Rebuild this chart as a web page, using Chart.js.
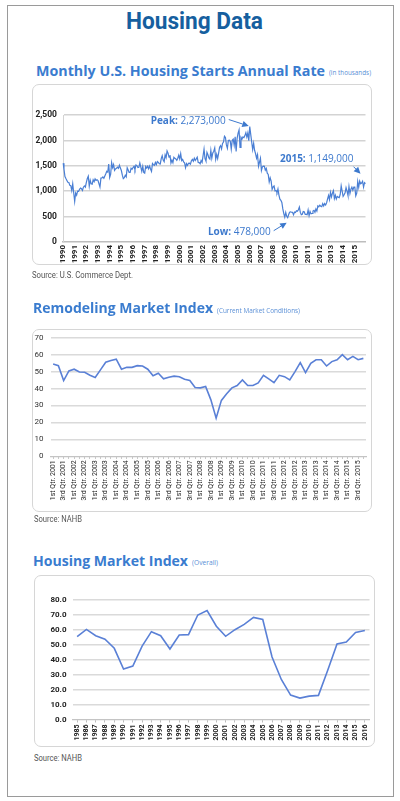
<!DOCTYPE html>
<html><head><meta charset="utf-8">
<script src="https://cdn.jsdelivr.net/npm/chart.js@4.4.1/dist/chart.umd.min.js"></script>
<style>
html,body{margin:0;padding:0;background:#fff;width:400px;height:801px;overflow:hidden;}
#page{position:relative;width:400px;height:801px;}
.frame{position:absolute;left:7px;top:5px;width:387px;height:792px;border:1.5px solid #9a9a9a;box-sizing:border-box;}
.t{position:absolute;white-space:nowrap;transform-origin:0 50%;}
.box{position:absolute;border:1.5px solid #d6d6d6;border-radius:7px;box-sizing:border-box;}
.cw{position:absolute;}
.h1{font-family:'Liberation Sans Narrow','Roboto',sans-serif;font-weight:700;font-size:24px;color:#165f9f;}
.h2{font-family:'Open Sans',sans-serif;font-weight:700;font-size:15px;color:#3a7ccf;}
.sub{font-family:'Open Sans',sans-serif;font-size:7px;color:#5a8fd6;}
.src{font-family:'Roboto',sans-serif;font-size:9px;color:#555;}
</style></head>
<body><div id="page">
<div class="frame"></div>
<div class="t h1" data-x="126" data-cy="21" data-w="137">Housing Data</div>

<div class="t h2" data-x="36" data-cy="70.5" data-w="289">Monthly U.S. Housing Starts Annual Rate</div>
<div class="t sub" data-x="329" data-cy="72" data-w="42">(in thousands)</div>
<div class="box" style="left:32px;top:84px;width:340px;height:181px"></div>
<div class="cw" style="left:32px;top:84px;width:340px;height:195px"><canvas id="c1"></canvas></div>
<div class="t src" data-x="32" data-cy="275" data-w="101">Source: U.S. Commerce Dept.</div>

<div class="t h2" data-x="33" data-cy="307.7" data-w="180">Remodeling Market Index</div>
<div class="t sub" data-x="217" data-cy="310" data-w="83">(Current Market Conditions)</div>
<div class="box" style="left:32px;top:329px;width:340px;height:183px"></div>
<div class="cw" style="left:32px;top:329px;width:340px;height:183px"><canvas id="c2"></canvas></div>
<div class="t src" data-x="34" data-cy="519" data-w="48">Source: NAHB</div>

<div class="t h2" data-x="33" data-cy="560" data-w="155">Housing Market Index</div>
<div class="t sub" data-x="192" data-cy="562.5" data-w="26">(Overall)</div>
<div class="box" style="left:34px;top:575px;width:341px;height:172px"></div>
<div class="cw" style="left:34px;top:575px;width:341px;height:172px"><canvas id="c3"></canvas></div>
<div class="t src" data-x="34" data-cy="758" data-w="48">Source: NAHB</div>
</div>
<script>
// ---------- Chart 1: Monthly U.S. Housing Starts (thousands) ----------
const startsYears = [1990,1991,1992,1993,1994,1995,1996,1997,1998,1999,2000,2001,2002,2003,2004,2005,2006,2007,2008,2009,2010,2011,2012,2013,2014,2015];
const startsValues = [
 1551,1437,1289,1248,1212,1177,1171,1115,1110,1014,1145,969,
 798,965,921,1001,996,1036,1063,1049,1015,1079,1103,1079,
 1176,1250,1297,1099,1214,1145,1139,1226,1186,1244,1214,1227,
 1210,1210,1083,1258,1260,1280,1254,1300,1343,1392,1376,1533,
 1272,1337,1564,1465,1526,1409,1439,1450,1474,1450,1511,1455,
 1407,1316,1249,1267,1314,1281,1461,1416,1369,1369,1452,1431,
 1467,1491,1424,1516,1504,1467,1472,1557,1475,1392,1489,1370,
 1355,1486,1457,1492,1442,1494,1437,1390,1546,1520,1510,1566,
 1525,1584,1567,1540,1536,1641,1698,1614,1582,1715,1660,1792,
 1748,1670,1710,1553,1611,1559,1669,1648,1635,1608,1648,1708,
 1636,1737,1604,1626,1575,1559,1463,1541,1507,1549,1551,1532,
 1600,1625,1590,1649,1605,1636,1670,1567,1562,1540,1602,1568,
 1698,1829,1642,1592,1764,1717,1655,1633,1804,1648,1753,1788,
 1853,1629,1726,1643,1751,1867,1897,1833,1939,1967,2083,2057,
 1911,1846,1998,2003,1981,1828,2002,2024,1905,2072,1782,2042,
 2144,2207,1864,2061,2025,2068,2054,2095,2151,2065,2147,1994,
 2273,2119,1969,1821,1942,1802,1737,1650,1720,1491,1570,1649,
 1409,1480,1495,1490,1415,1448,1354,1330,1183,1264,1197,1037,
 1084,1103,1005,1013,973,1046,923,844,820,777,652,560,
 490,582,505,478,540,585,594,586,585,534,588,581,
 614,604,636,687,583,536,546,599,594,543,545,539,
 630,517,600,554,561,608,623,585,650,610,711,694,
 723,704,695,753,708,757,728,770,847,915,833,976,
 888,962,1010,856,919,847,898,883,873,936,1105,1003,
 897,929,968,1070,1001,914,1090,956,1038,1081,1020,1082,
 1080,909,963,1189,1077,1200,1147,1160,1196,1082,1168,1149
];
const startsTicks = [0,500,1000,1500,2000,2500];
const startsNotes = ['Peak:','Low:','2015:'];

// ---------- Chart 2: Remodeling Market Index (quarterly) ----------
const remodelYears = [2001,2002,2003,2004,2005,2006,2007,2008,2009,2010,2011,2012,2013,2014,2015];
const quarterNames = ['1st Qtr.','2nd Qtr.','3rd Qtr.','4th Qtr.'];
const remodelValues = [
 54.5,53.5,44.7,50.4, 51.4,49.8,49.6,47.8, 46.5,51.0,55.5,56.5, 57.3,51.4,52.5,52.5,
 53.5,53.3,51.4,47.5, 49.0,45.7,46.7,47.3, 47.0,45.5,44.7,40.6, 40.4,41.2,33.3,22.5,
 33.0,36.9,40.4,41.8, 45.1,41.8,41.8,43.3, 47.8,45.7,43.5,47.8, 47.0,45.1,50.0,55.3,
 49.4,54.9,57.0,57.0, 53.3,55.9,57.0,60.0, 57.0,59.0,57.0,57.8
];

// ---------- Chart 3: Housing Market Index (annual) ----------
const hmiYears = ['1985','1986','1987','1988','1989','1990','1991','1992','1993','1994','1995','1996','1997','1998','1999','2000',
 '2001','2002','2003','2004','2005','2006','2007','2008','2009','2010','2011','2012','2013','2014','2015','2016'];
const hmiValues = [55.6,60.4,56.2,53.8,47.8,34.0,36.0,49.3,58.9,56.2,47.3,56.7,56.9,70.0,72.9,62.5,
 55.8,60.2,63.7,68.4,67.0,42.0,27.0,16.6,14.6,15.9,16.4,33.2,50.7,52.0,58.4,59.7];

// ---------- text placement ----------
document.querySelectorAll('.t').forEach(el=>{
  const fs = parseFloat(getComputedStyle(el).fontSize);
  el.style.lineHeight = fs + 'px';
  el.style.left = el.dataset.x + 'px';
  el.style.top = (parseFloat(el.dataset.cy) - fs*0.5) + 'px';
  const w = el.getBoundingClientRect().width;
  el.style.transform = 'scaleX(' + (parseFloat(el.dataset.w)/w) + ')';
});

Chart.defaults.animation = false;
Chart.defaults.font.family = 'Roboto, sans-serif';

function fixW(w){ return function(s){ s.width = w; s.paddingTop = 0; s.paddingBottom = 0; }; }
function fixH(h){ return function(s){ s.height = h; s.paddingLeft = 0; s.paddingRight = 0; }; }

const blue1 = '#4a7fd4';
const annotColor = '#3d79cd';

const annotPlugin = {
  id: 'annot',
  afterDatasetsDraw(chart){
    const ctx = chart.ctx;
    const data = chart.data.datasets[0].data;
    const meta = chart.getDatasetMeta(0);
    let iMax = 0, iMin = 0;
    data.forEach((v,i)=>{ if (v > data[iMax]) iMax = i; if (v < data[iMin]) iMin = i; });
    const iLast = data.length - 1;
    const items = [
      {i:iMax, head:startsNotes[0], tx:-24, ty:-5.5, a:[-21,-7,-1,-0.5]},
      {i:iMin, head:startsNotes[1], tx:-17, ty:14.5, a:[-14,13,-1,5]},
      {i:iLast, head:startsNotes[2], tx:-12, ty:-24.5, a:[-12,-17,-5,-10]}
    ];
    ctx.save();
    ctx.textBaseline = 'middle';
    ctx.fillStyle = annotColor;
    ctx.strokeStyle = annotColor;
    items.forEach(it=>{
      const p = meta.data[it.i];
      const val = ' ' + (data[it.i]*1000).toLocaleString('en-US');
      ctx.font = 'bold 10px "Open Sans", sans-serif';
      const wh = ctx.measureText(it.head).width;
      ctx.font = '10px "Open Sans", sans-serif';
      const wv = ctx.measureText(val).width;
      const x0 = p.x + it.tx - wh - wv;
      const y0 = p.y + it.ty;
      ctx.font = 'bold 10px "Open Sans", sans-serif';
      ctx.textAlign = 'left';
      ctx.fillText(it.head, x0, y0);
      ctx.font = '10px "Open Sans", sans-serif';
      ctx.fillText(val, x0 + wh, y0);
      const x1 = p.x + it.a[0], y1 = p.y + it.a[1], x2 = p.x + it.a[2], y2 = p.y + it.a[3];
      const ang = Math.atan2(y2-y1, x2-x1);
      const L = 6.5, H = 3.2;
      ctx.lineWidth = 1;
      ctx.beginPath();
      ctx.moveTo(x1,y1);
      ctx.lineTo(x2 - Math.cos(ang)*L, y2 - Math.sin(ang)*L);
      ctx.stroke();
      ctx.beginPath();
      ctx.moveTo(x2,y2);
      ctx.lineTo(x2 - Math.cos(ang)*L - Math.sin(ang)*H, y2 - Math.sin(ang)*L + Math.cos(ang)*H);
      ctx.lineTo(x2 - Math.cos(ang)*L + Math.sin(ang)*H, y2 - Math.sin(ang)*L - Math.cos(ang)*H);
      ctx.closePath();
      ctx.fill();
    });
    ctx.restore();
  }
};

// Chart 1
const startsLabels = [];
startsYears.forEach(y=>{ for (let m=0;m<12;m++) startsLabels.push(m===0 ? String(y) : ''); });
new Chart(document.getElementById('c1'), {
  type:'line',
  data:{ labels: startsLabels, datasets:[{ data: startsValues, borderColor: blue1, borderWidth: 1.2, pointRadius: 0, tension: 0, fill:false }]},
  options:{
    responsive:true, maintainAspectRatio:false,
    plugins:{ legend:{display:false}, tooltip:{enabled:false} },
    layout:{ padding:{ top:31, right:6.5, left:0, bottom:0 } },
    scales:{
      x:{ type:'category', offset:false,
          grid:{ display:false, drawTicks:false },
          border:{ display:true, color:'#bdbdbd', width:1.5, dash:[1.5,1.5] },
          ticks:{ autoSkip:false, minRotation:90, maxRotation:90, padding:3, color:'#222',
                  font:{ size:8, weight:'bold' },
                  callback:function(v,i){ return startsLabels[i]; } },
          afterFit: fixH(37) },
      y:{ min:0, max:2500,
          afterBuildTicks: function(s){ s.ticks = startsTicks.map(v=>({value:v})); },
          grid:{ color: (c)=> c.tick && c.tick.value === 0 ? 'rgba(0,0,0,0)' : '#d3d3d3', lineWidth:1.5, drawTicks:false },
          border:{ display:true, color:'#d3d3d3', width:1 },
          ticks:{ padding:6, color:'#222', font:{ size:8.5, weight:'bold' },
                  callback:(v)=> v.toLocaleString('en-US') },
          afterFit: fixW(31) }
    }
  },
  plugins:[annotPlugin]
});

// Chart 2
const remodelLabels = [];
remodelYears.forEach(y=>{ quarterNames.forEach(q=>{ remodelLabels.push(q + ' ' + y); }); });
new Chart(document.getElementById('c2'), {
  type:'line',
  data:{ labels: remodelLabels, datasets:[{ data: remodelValues, borderColor:'#5a80d6', borderWidth:1.6, pointRadius:0, tension:0, fill:false }]},
  options:{
    responsive:true, maintainAspectRatio:false,
    plugins:{ legend:{display:false}, tooltip:{enabled:false} },
    layout:{ padding:{ top:8.7, right:6, left:0, bottom:0 } },
    scales:{
      x:{ type:'category', offset:true,
          grid:{ display:true, drawOnChartArea:false, drawTicks:true, tickLength:2.5, tickColor:'#bcbcbc', color:'#bcbcbc' },
          border:{ display:true, color:'#c4c4c4', width:1.2 },
          ticks:{ autoSkip:false, minRotation:90, maxRotation:90, padding:1.5, color:'#222',
                  font:{ size:7 },
                  callback:function(v,i){ return i % 2 === 0 ? remodelLabels[i] : ''; } },
          afterFit: fixH(55.7) },
      y:{ min:0, max:70,
          ticks:{ stepSize:10, padding:7, color:'#333', font:{ size:8 } },
          grid:{ color: (c)=> c.tick && c.tick.value === 0 ? 'rgba(0,0,0,0)' : '#dadada', lineWidth:1.5, drawTicks:false },
          border:{ display:false },
          afterFit: fixW(18.5) }
    }
  }
});

// Chart 3
new Chart(document.getElementById('c3'), {
  type:'line',
  data:{ labels: hmiYears, datasets:[{ data: hmiValues, borderColor:'#5a80d6', borderWidth:1.6, pointRadius:0, tension:0, fill:false }]},
  options:{
    responsive:true, maintainAspectRatio:false,
    plugins:{ legend:{display:false}, tooltip:{enabled:false} },
    layout:{ padding:{ top:25, right:5.5, left:0, bottom:0 } },
    scales:{
      x:{ type:'category', offset:true,
          grid:{ display:true, drawOnChartArea:false, drawTicks:true, tickLength:2.5, tickColor:'#bcbcbc', color:'#bcbcbc' },
          border:{ display:true, color:'#c4c4c4', width:1.2 },
          ticks:{ autoSkip:false, minRotation:90, maxRotation:90, padding:2, color:'#222',
                  font:{ size:7, weight:'bold' } },
          afterFit: fixH(27) },
      y:{ min:0, max:80,
          ticks:{ stepSize:10, padding:6, color:'#222', font:{ size:8, weight:'bold' },
                  callback:(v)=> v.toFixed(1) },
          grid:{ color: (c)=> c.tick && c.tick.value === 0 ? 'rgba(0,0,0,0)' : '#dadada', lineWidth:1.5, drawTicks:false },
          border:{ display:false },
          afterFit: fixW(38.5) }
    }
  }
});
</script>
</body></html>
